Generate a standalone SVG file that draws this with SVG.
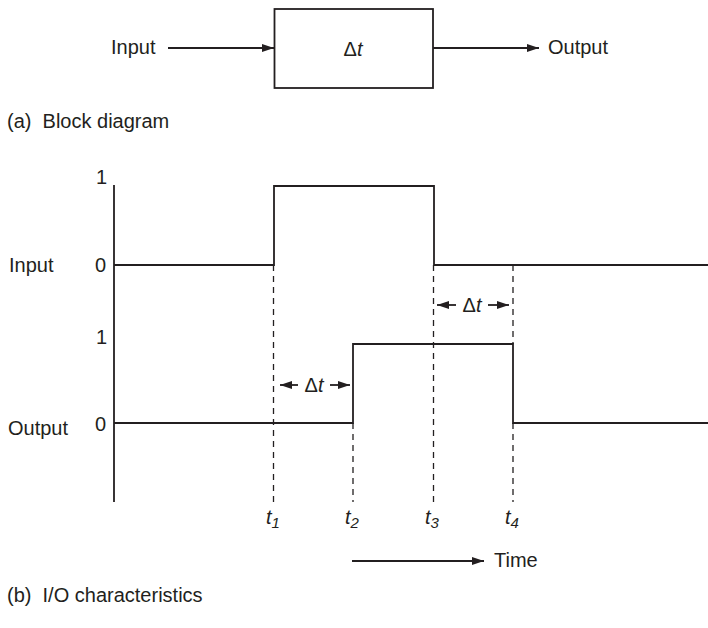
<svg xmlns="http://www.w3.org/2000/svg" width="708" height="628" viewBox="0 0 708 628">
<defs>
<style>
text{font-family:"Liberation Sans",Arial,sans-serif;font-size:20px;fill:#231f20}
.it{font-style:italic}
.ln{stroke:#231f20;stroke-width:1.8;fill:none}
.ds{stroke:#231f20;stroke-width:1.3;fill:none;stroke-dasharray:6,5}
</style>
<marker id="ah" markerWidth="12" markerHeight="8" refX="12" refY="4" orient="auto" markerUnits="userSpaceOnUse">
<path d="M0,0 L12,4 L0,8 Z" fill="#231f20"/>
</marker>
</defs>
<rect width="708" height="628" fill="#fff"/>
<g id="block">
<rect x="274.5" y="9" width="158.5" height="79" class="ln"/>
<text x="353" y="56" text-anchor="middle">Δ<tspan class="it">t</tspan></text>
</g>
<g id="input-label"><text x="111" y="54">Input</text></g>
<g id="output-label"><text x="548" y="54">Output</text></g>
<g id="connectors">
<line x1="168" y1="48" x2="274" y2="48" class="ln" marker-end="url(#ah)"/>
<line x1="433" y1="48" x2="539" y2="48" class="ln" marker-end="url(#ah)"/>
</g>
<text x="7" y="128" xml:space="preserve">(a)  Block diagram</text>

<g id="axes">
<line x1="114" y1="185" x2="114" y2="502" class="ln"/>
<text x="96" y="184">1</text>
<text x="95" y="272">0</text>
<text x="96" y="344">1</text>
<text x="95" y="431">0</text>
<text x="9" y="272">Input</text>
<text x="8" y="435">Output</text>
</g>
<g id="input-wave">
<polyline points="114,265 274,265 274,186 434,186 434,265 708,265" class="ln"/>
</g>
<g id="output-wave">
<polyline points="114,423 353,423 353,344 513,344 513,423 708,423" class="ln"/>
</g>
<g id="dashes">
<line x1="273.5" y1="265" x2="273.5" y2="502" class="ds"/>
<line x1="353" y1="423" x2="353" y2="502" class="ds"/>
<line x1="433.5" y1="265" x2="433.5" y2="502" class="ds"/>
<line x1="513" y1="265" x2="513" y2="344" class="ds"/>
<line x1="513" y1="423" x2="513" y2="502" class="ds"/>
</g>
<g id="delta1">
<line x1="298" y1="385" x2="280" y2="385" class="ln" marker-end="url(#ah)"/>
<line x1="330" y1="385" x2="350" y2="385" class="ln" marker-end="url(#ah)"/>
<text x="314" y="392" text-anchor="middle">Δ<tspan class="it">t</tspan></text>
</g>
<g id="delta2">
<line x1="456" y1="305" x2="437" y2="305" class="ln" marker-end="url(#ah)"/>
<line x1="488" y1="305" x2="509" y2="305" class="ln" marker-end="url(#ah)"/>
<text x="472" y="312" text-anchor="middle">Δ<tspan class="it">t</tspan></text>
</g>
<g id="tlabels">
<text x="266" y="524" class="it">t<tspan font-size="15" dy="4">1</tspan></text>
<text x="345" y="524" class="it">t<tspan font-size="15" dy="4">2</tspan></text>
<text x="425" y="524" class="it">t<tspan font-size="15" dy="4">3</tspan></text>
<text x="505" y="524" class="it">t<tspan font-size="15" dy="4">4</tspan></text>
</g>
<g id="time">
<line x1="352" y1="561" x2="484" y2="561" class="ln" marker-end="url(#ah)"/>
<text x="494" y="567">Time</text>
</g>
<text x="7" y="602" xml:space="preserve">(b)  I/O characteristics</text>
</svg>
